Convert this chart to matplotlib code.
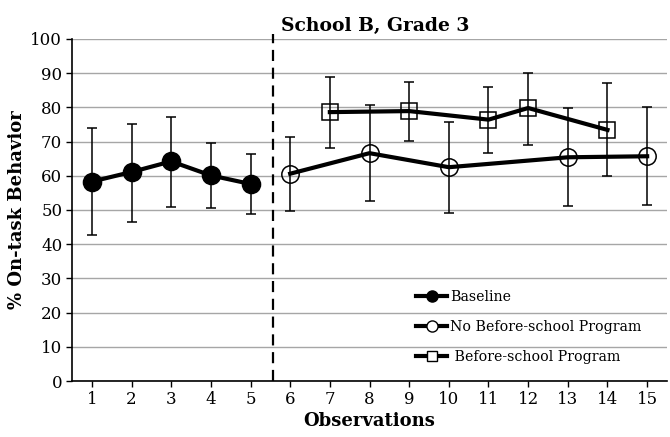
import numpy as np
import matplotlib
matplotlib.use('Agg')
import matplotlib.pyplot as plt
from matplotlib.lines import Line2D

plt.rcParams['font.family'] = 'DejaVu Serif'

# Observations and mean % on-task (with upper / lower error bar ends)
base_x = [1, 2, 3, 4, 5]
base_y = [58.3, 61.1, 64.2, 60.1, 57.6]
base_hi = [73.9, 75.0, 77.2, 69.7, 66.3]
base_lo = [42.7, 46.6, 50.8, 50.5, 48.7]

nobs_x = [6, 8, 10, 13, 15]
nobs_y = [60.6, 66.6, 62.5, 65.4, 65.7]
nobs_hi = [71.2, 80.7, 75.7, 79.8, 80.0]
nobs_lo = [49.7, 52.6, 49.1, 51.1, 51.5]

bs_x = [7, 9, 11, 12, 14]
bs_y = [78.6, 78.9, 76.4, 79.8, 73.4]
bs_hi = [89.0, 87.3, 86.0, 90.1, 87.0]
bs_lo = [68.0, 70.3, 66.6, 69.1, 59.8]

labels = ['Baseline', 'No Before-school Program', ' Before-school Program']
phase_change = 5.57

fig = plt.figure(figsize=(6.7, 4.37), dpi=100)
ax = fig.add_axes([0.1075, 0.128, 0.888, 0.783])


def draw(x, y, lo, hi, marker, face, ms):
    y = np.array(y)
    err = [y - np.array(lo), np.array(hi) - y]
    ax.errorbar(x, y, yerr=err, fmt='none', ecolor='black', elinewidth=1.1,
                capsize=3.5, capthick=1.1, zorder=3)
    ax.plot(x, y, color='black', lw=3, marker=marker, ms=ms,
            mfc=face, mec='black', mew=1.1, zorder=4)


draw(base_x, base_y, base_lo, base_hi, 'o', 'black', 13)
draw(nobs_x, nobs_y, nobs_lo, nobs_hi, 'o', 'none', 12.5)
draw(bs_x, bs_y, bs_lo, bs_hi, 's', 'none', 11.5)

ax.plot([phase_change, phase_change], [0, 101.5], color='black', lw=1.6,
        dashes=(5, 3), clip_on=False, zorder=5)

ax.set_xlim(0.5, 15.5)
ax.set_ylim(0, 100)
ax.set_xticks(range(1, 16))
ax.set_yticks(range(0, 101, 10))
ax.yaxis.grid(True, color='#a6a6a6', lw=1)
ax.set_axisbelow(True)
for s in ['top', 'right']:
    ax.spines[s].set_visible(False)
ax.spines['left'].set_linewidth(1.2)
ax.spines['bottom'].set_linewidth(1.2)
ax.tick_params(length=4, width=1, labelsize=12, pad=3)

ax.set_title('School B, Grade 3', fontsize=13.5, fontweight='bold', pad=6, x=0.51)
ax.set_xlabel('Observations', fontsize=13, fontweight='bold', labelpad=3)
ax.set_ylabel('% On-task Behavior', fontsize=13, fontweight='bold', labelpad=3)

handles = [
    Line2D([], [], color='black', lw=3, marker='o', ms=8, mfc='black'),
    Line2D([], [], color='black', lw=3, marker='o', ms=8, mfc='white', mew=1),
    Line2D([], [], color='black', lw=3, marker='s', ms=7, mfc='white', mew=1),
]
ax.legend(handles, labels, loc='lower left', bbox_to_anchor=(0.557, 0.012),
          frameon=False, fontsize=10.2, handlelength=2.2, handletextpad=0.2,
          labelspacing=1.15)

fig.savefig('out.png', dpi=100)
